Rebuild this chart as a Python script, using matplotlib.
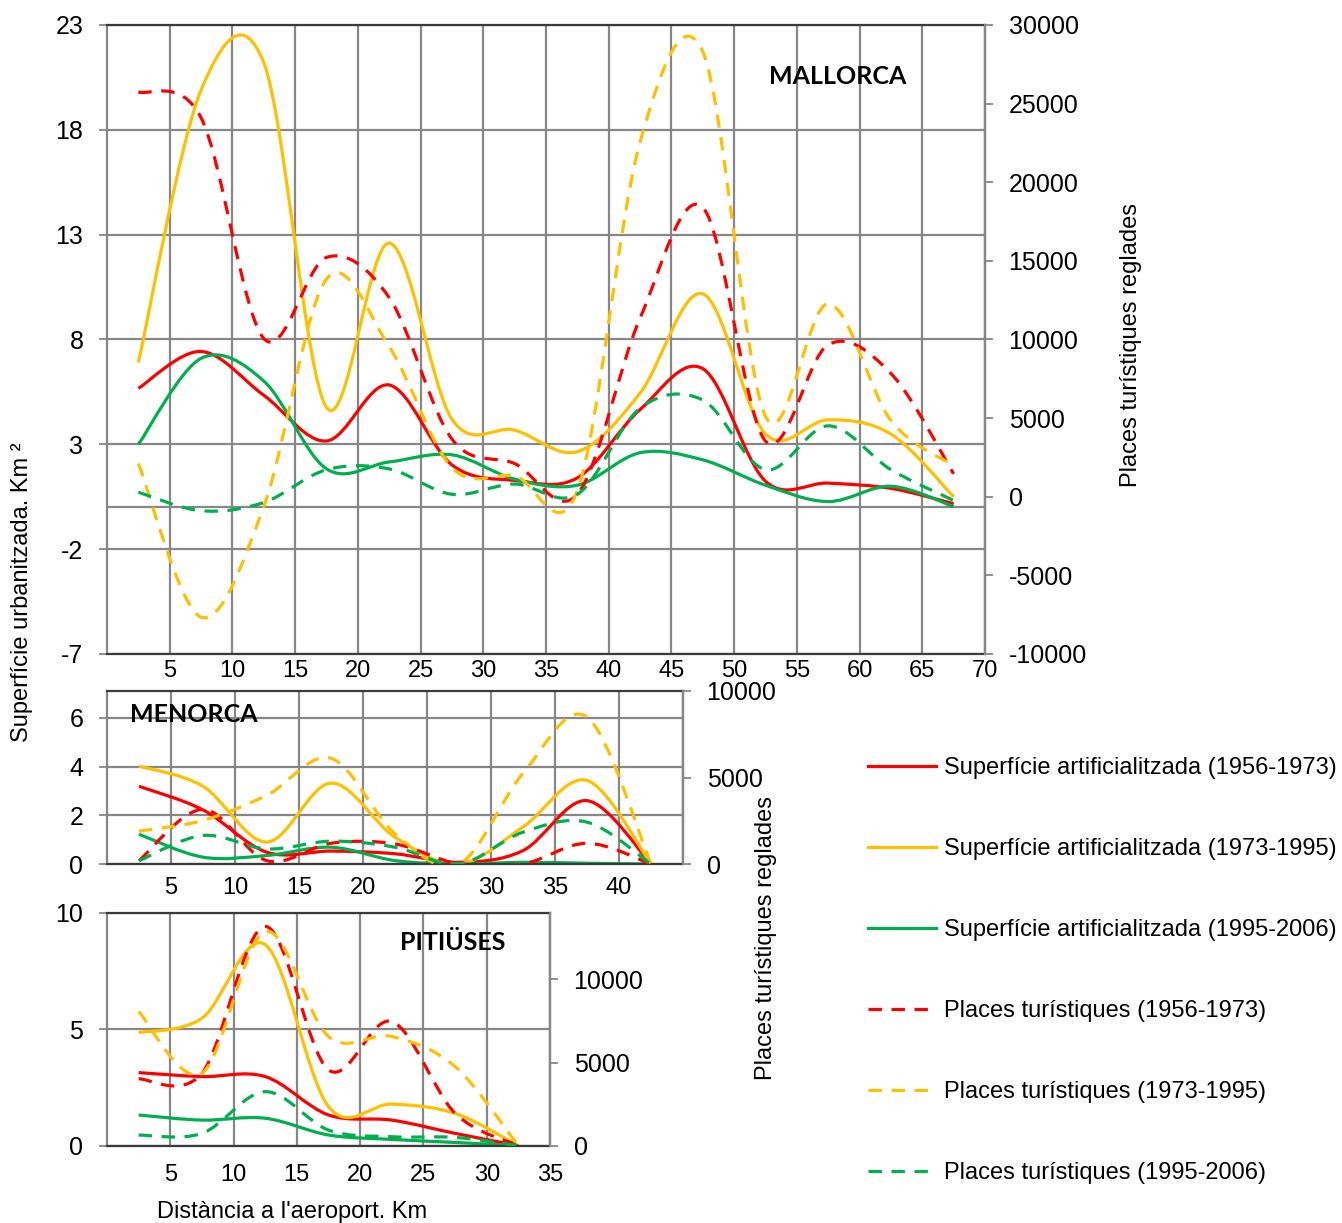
import matplotlib
matplotlib.use("Agg")
import matplotlib.pyplot as plt
from matplotlib.path import Path
from matplotlib.patches import PathPatch
from matplotlib.lines import Line2D

plt.rcParams["font.family"] = ["Liberation Sans", "DejaVu Sans"]
plt.rcParams["axes.unicode_minus"] = False

# ---- data ----
mall_dist = [2.5, 7.5, 12.5, 17.5, 22.5, 27.5, 32.5, 37.5, 42.5, 47.5, 52.5, 57.5, 62.5, 67.5]
mall_sup_56_73 = [5.67, 7.43, 5.34, 3.16, 5.83, 2.02, 1.28, 1.4, 4.66, 6.61, 1.24, 1.15, 0.9, 0.17]
mall_sup_73_95 = [6.9, 19.9, 21.2, 4.76, 12.6, 4.2, 3.68, 2.65, 5.44, 10.18, 3.49, 4.17, 3.49, 0.5]
mall_sup_95_06 = [3.0, 7.1, 6.02, 1.83, 2.16, 2.5, 1.34, 1.05, 2.6, 2.26, 1.05, 0.27, 1.0, 0.03]
mall_pl_56_73 = [25750, 24100, 10060, 15220, 12660, 3670, 2110, 156, 11360, 18400, 3540, 9670, 7840, 1460]
mall_pl_73_95 = [2110, -7660, -620, 13840, 9540, 1850, 1330, 400, 22570, 28300, 5110, 12270, 4850, 1980]
mall_pl_95_06 = [290, -890, -365, 1720, 1770, 156, 808, 156, 5630, 6150, 1720, 4510, 1720, -235]

men_dist = [2.5, 7.5, 12.5, 17.5, 22.5, 27.5, 32.5, 37.5, 42.5]
men_sup_56_73 = [3.19, 2.22, 0.48, 0.53, 0.42, 0.07, 0.55, 2.6, 0]
men_sup_73_95 = [4.02, 3.19, 0.9, 3.32, 1.1, 0.0, 1.52, 3.43, 0]
men_sup_95_06 = [1.22, 0.28, 0.35, 0.69, 0.14, 0.0, 0.07, 0.03, 0]
men_pl_56_73 = [190, 3160, 190, 1200, 1160, 0, 0, 1200, 0]
men_pl_73_95 = [1900, 2520, 3980, 6110, 1750, 0, 5240, 8500, 0]
men_pl_95_06 = [190, 1650, 870, 1320, 970, 0, 1840, 2420, 0]

pit_dist = [2.5, 7.5, 12.5, 17.5, 22.5, 27.5, 32.5]
pit_sup_56_73 = [3.14, 2.97, 2.97, 1.32, 1.1, 0.53, 0]
pit_sup_73_95 = [4.86, 5.48, 8.64, 1.68, 1.79, 1.39, 0]
pit_sup_95_06 = [1.32, 1.1, 1.18, 0.46, 0.27, 0.14, 0]
pit_pl_56_73 = [4020, 4360, 13190, 4560, 7470, 1950, 0]
pit_pl_73_95 = [8070, 4360, 12890, 6570, 6570, 4760, 0]
pit_pl_95_06 = [640, 740, 3250, 940, 540, 500, 0]

labels = [
    "Superfície artificialitzada (1956-1973)",
    "Superfície artificialitzada (1973-1995)",
    "Superfície artificialitzada (1995-2006)",
    "Places turístiques (1956-1973)",
    "Places turístiques (1973-1995)",
    "Places turístiques (1995-2006)",
]
colors = ["#FF0000", "#FFC000", "#00B050"]
GRID = "#878787"
LW = 2.3
DASH = (0, (4.2, 3.0))


def smooth(ax, xs, ys, color, ls="-"):
    # Excel style smoothed line: cubic bezier through every point
    pts = list(zip(xs, ys))
    n = len(pts)
    verts = [pts[0]]
    codes = [Path.MOVETO]
    for i in range(n - 1):
        p0 = pts[max(i - 1, 0)]
        p1 = pts[i]
        p2 = pts[i + 1]
        p3 = pts[min(i + 2, n - 1)]
        c1 = (p1[0] + (p2[0] - p0[0]) / 6, p1[1] + (p2[1] - p0[1]) / 6)
        c2 = (p2[0] - (p3[0] - p1[0]) / 6, p2[1] - (p3[1] - p1[1]) / 6)
        verts += [c1, c2, p2]
        codes += [Path.CURVE4] * 3
    ax.add_patch(PathPatch(Path(verts, codes), fill=False, edgecolor=color,
                           lw=LW, linestyle=ls, capstyle="butt", joinstyle="round"))


def panel(rect, dist, sups, places, xmax, xticks, ylim, yticks, y2lim, y2ticks, xpad):
    ax = fig.add_axes(rect)
    ax.set_xlim(0, xmax)
    ax.set_ylim(*ylim)
    ax.set_xticks(xticks)
    ax.set_yticks(yticks)
    ax.grid(True, color=GRID, lw=1.6)
    ax.set_axisbelow(True)
    for s in ["left", "right"]:
        ax.spines[s].set_color(GRID)
        ax.spines[s].set_linewidth(1.6)
    for s in ["top", "bottom"]:
        ax.spines[s].set_color("#3a3a3a")
        ax.spines[s].set_linewidth(1.6)
    ax.tick_params(axis="y", direction="out", length=6, width=1.3, color=GRID,
                   pad=11, labelsize=18)
    ax.tick_params(axis="x", length=0, pad=xpad, labelsize=17)
    for ys, c in zip(sups, colors):
        smooth(ax, dist, ys, c)

    ax2 = ax.twinx()
    ax2.set_ylim(*y2lim)
    ax2.set_yticks(y2ticks)
    ax2.spines["right"].set_color(GRID)
    ax2.spines["right"].set_linewidth(1.6)
    for s in ["left", "top", "bottom"]:
        ax2.spines[s].set_visible(False)
    ax2.tick_params(axis="y", direction="out", length=6, width=1.3, color=GRID,
                    pad=11, labelsize=18)
    for ys, c in zip(places, colors):
        smooth(ax2, dist, ys, c, DASH)
    return ax


W, H = 1342, 1223
fig = plt.figure(figsize=(W / 100, H / 100), dpi=100)

ax_m = panel([107 / W, 1 - 654 / H, 878 / W, 629 / H], mall_dist,
             [mall_sup_56_73, mall_sup_73_95, mall_sup_95_06],
             [mall_pl_56_73, mall_pl_73_95, mall_pl_95_06],
             70, range(5, 71, 5), (-7, 23), [-7, -2, 3, 8, 13, 18, 23],
             (-10000, 30000), range(-10000, 30001, 5000), 4)
ax_m.axhline(0, color=GRID, lw=1.6, zorder=0.5)

ax_n = panel([107 / W, 1 - 864 / H, 576 / W, 173 / H], men_dist,
             [men_sup_56_73, men_sup_73_95, men_sup_95_06],
             [men_pl_56_73, men_pl_73_95, men_pl_95_06],
             45, range(5, 41, 5), (0, 7.1), [0, 2, 4, 6], (0, 10000), [0, 5000, 10000], 9)
ax_n.axvline(45, color=GRID, lw=1.6)

panel([107 / W, 1 - 1145.7 / H, 443 / W, 232.7 / H], pit_dist,
      [pit_sup_56_73, pit_sup_73_95, pit_sup_95_06],
      [pit_pl_56_73, pit_pl_73_95, pit_pl_95_06],
      35, range(5, 36, 5), (0, 10), [0, 5, 10], (0, 14000), [0, 5000, 10000], 13)

title_kw = dict(ha="center", va="center", fontsize=18, fontweight="bold",
                family=["Lato", "DejaVu Sans"])
fig.text(838 / W, 1 - 77 / H, "MALLORCA", **title_kw)
fig.text(194 / W, 1 - 714 / H, "MENORCA", **title_kw)
fig.text(453 / W, 1 - 942 / H, "PITIÜSES", **title_kw)

fig.text(22 / W, 1 - 592 / H, "Superfície urbanitzada. Km ²", rotation=90,
         ha="center", va="center", fontsize=17)
fig.text(1131 / W, 1 - 345 / H, "Places turístiques reglades", rotation=90,
         ha="center", va="center", fontsize=17)
fig.text(766 / W, 1 - 938 / H, "Places turístiques reglades", rotation=90,
         ha="center", va="center", fontsize=17)
fig.text(292 / W, 1 - 1212 / H, "Distància a l'aeroport. Km",
         ha="center", va="center", fontsize=17)

handles = [Line2D([], [], color=c, lw=LW) for c in colors]
handles += [Line2D([], [], color=c, lw=LW, linestyle=DASH) for c in colors]
fig.legend(handles, labels, loc="upper left", bbox_to_anchor=(868 / W, 1 - 757 / H),
           frameon=False, fontsize=17, handlelength=2.9, handletextpad=0.3,
           labelspacing=2.5, borderpad=0, borderaxespad=0)

fig.savefig("out.png", dpi=100)
